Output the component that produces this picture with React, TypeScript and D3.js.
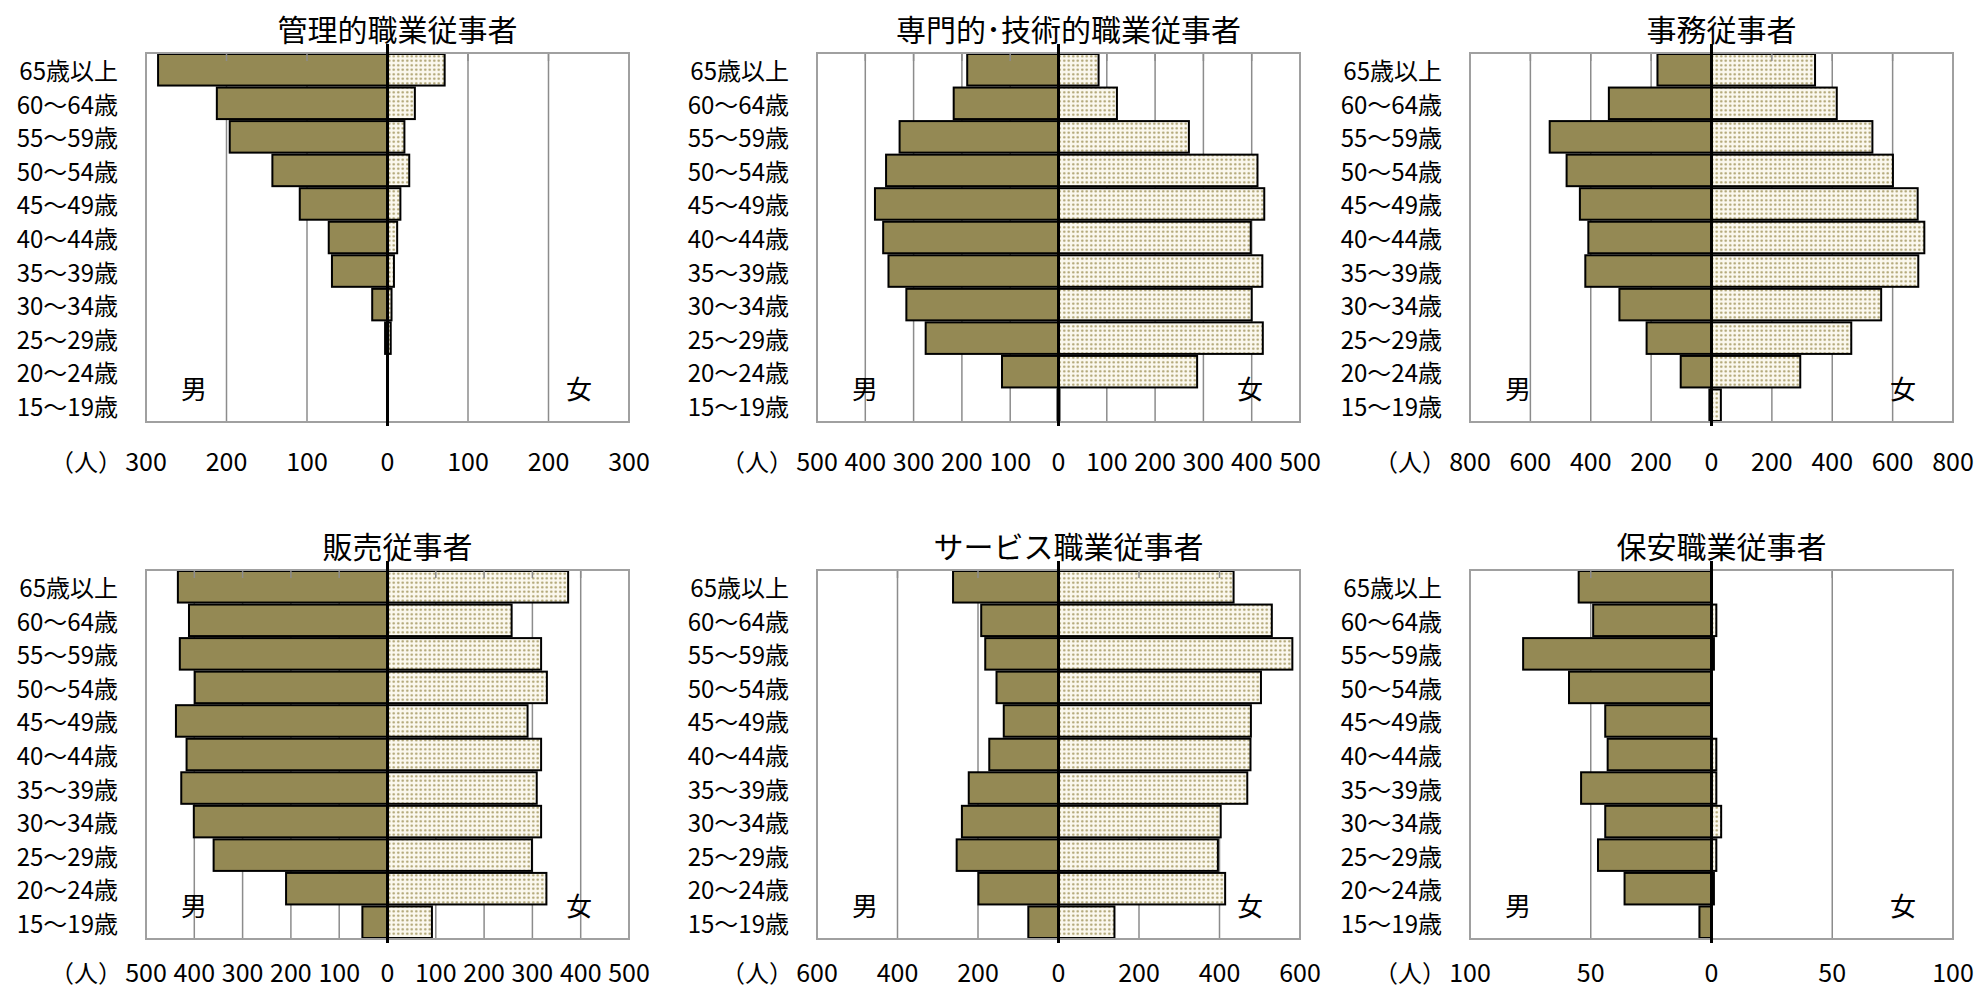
import React from 'react';
import * as d3 from 'd3';

const ages = ["65歳以上", "60～64歳", "55～59歳", "50～54歳", "45～49歳", "40～44歳", "35～39歳", "30～34歳", "25～29歳", "20～24歳", "15～19歳"];

const titles = ["管理的職業従事者", "専門的･技術的職業従事者", "事務従事者", "販売従事者", "サービス職業従事者", "保安職業従事者"];

const kanriMale = [285, 212, 196, 143, 109, 73, 69, 19, 3, 0, 0];
const kanriFemale = [71, 34, 21, 27, 16, 12, 8, 5, 4, 0, 0];
const senmonMale = [189, 217, 329, 357, 380, 363, 352, 315, 275, 117, 2];
const senmonFemale = [83, 121, 270, 412, 426, 398, 422, 400, 423, 287, 2];
const jimuMale = [179, 340, 536, 480, 436, 408, 418, 305, 215, 102, 7];
const jimuFemale = [343, 415, 533, 601, 683, 705, 685, 562, 463, 294, 31];
const hanbaiMale = [434, 411, 430, 399, 438, 416, 427, 401, 360, 210, 52];
const hanbaiFemale = [374, 257, 318, 330, 290, 318, 309, 318, 299, 329, 92];
const serviceMale = [262, 192, 182, 154, 136, 172, 223, 240, 253, 199, 75];
const serviceFemale = [435, 530, 581, 503, 478, 477, 469, 403, 396, 414, 139];
const hoanMale = [55, 49, 78, 59, 44, 43, 54, 44, 47, 36, 5];
const hoanFemale = [0, 2, 1, 0, 0, 2, 2, 4, 2, 1, 0];

const axisMax = [300, 500, 800, 500, 600, 100];
const axisStep = [100, 100, 200, 100, 200, 50];

const panels = [
  { title: titles[0], male: kanriMale, female: kanriFemale, max: axisMax[0], step: axisStep[0] },
  { title: titles[1], male: senmonMale, female: senmonFemale, max: axisMax[1], step: axisStep[1] },
  { title: titles[2], male: jimuMale, female: jimuFemale, max: axisMax[2], step: axisStep[2] },
  { title: titles[3], male: hanbaiMale, female: hanbaiFemale, max: axisMax[3], step: axisStep[3] },
  { title: titles[4], male: serviceMale, female: serviceFemale, max: axisMax[4], step: axisStep[4] },
  { title: titles[5], male: hoanMale, female: hoanFemale, max: axisMax[5], step: axisStep[5] },
];

const colLefts = [146, 817, 1470];
const rowTops = [53, 570];
const tickOffsets = [38, 32];
const W = 483;
const H = 369;
const FONT = "'Noto Sans CJK JP', 'Noto Sans', sans-serif";
const MALE_FILL = '#948954';
const GRID = '#8c8c8c';

type P = { title: string; male: number[]; female: number[]; max: number; step: number };

function Panel({ p, left, top, tickOff }: { p: P; left: number; top: number; tickOff: number }) {
  const x = d3.scaleLinear().domain([-p.max, p.max]).range([left, left + W]);
  const y = d3.scaleBand<string>().domain(ages).range([top, top + H]).paddingInner(0.06).paddingOuter(0.03);
  const ticks = d3.range(-p.max, p.max + 1e-9, p.step);
  const x0 = x(0);
  const tickY = top + H + tickOff;
  return (
    <g>
      <rect x={left} y={top} width={W} height={H} fill="#fff" />
      {ticks.filter(t => t !== 0 && Math.abs(t) !== p.max).map(t => (
        <line key={'g' + t} x1={x(t)} x2={x(t)} y1={top} y2={top + H} stroke={GRID} strokeWidth={1.5} />
      ))}
      {ages.map((a, i) => p.male[i] > 0 ? (
        <rect key={'m' + a} x={x(-p.male[i])} y={y(a)} width={x0 - x(-p.male[i])} height={y.bandwidth()}
          fill={MALE_FILL} stroke="#000" strokeWidth={2} />
      ) : null)}
      {ages.map((a, i) => p.female[i] > 0 ? (
        <rect key={'f' + a} x={x0} y={y(a)} width={x(p.female[i]) - x0} height={y.bandwidth()}
          fill="url(#dots)" stroke="#000" strokeWidth={2} />
      ) : null)}
      {ticks.filter(t => t !== 0 && Math.abs(t) !== p.max).map(t => (
        <line key={'t' + t} x1={x(t)} x2={x(t)} y1={top} y2={top + 8} stroke={GRID} strokeWidth={1.5} />
      ))}
      <rect x={left} y={top} width={W} height={H} fill="none" stroke="#a0a0a0" strokeWidth={2} />
      <line x1={x0} x2={x0} y1={top - 9} y2={top + H + 4} stroke="#000" strokeWidth={3} />
      <text x={left + W / 2 + 10} y={top - 25} textAnchor="middle" dominantBaseline="central"
        fontFamily={FONT} fontSize={30} fill="#000">{p.title}</text>
      {ages.map(a => (
        <text key={'l' + a} x={left - 28} y={(y(a) as number) + y.bandwidth() / 2} textAnchor="end"
          dominantBaseline="central" fontFamily={FONT} fontSize={24} fill="#000">{a}</text>
      ))}
      {ticks.map(t => (
        <text key={'x' + t} x={x(t)} y={tickY} textAnchor="middle" dominantBaseline="central"
          fontFamily={FONT} fontSize={25} fill="#000">{Math.abs(t)}</text>
      ))}
      <text x={left - 24} y={tickY} textAnchor="end" dominantBaseline="central" fontFamily={FONT}
        fontSize={24} fill="#000">（人）</text>
      <text x={left + 48} y={top + H - 35} textAnchor="middle" dominantBaseline="central"
        fontFamily={FONT} fontSize={26} fill="#000">男</text>
      <text x={left + W - 50} y={top + H - 35} textAnchor="middle" dominantBaseline="central"
        fontFamily={FONT} fontSize={26} fill="#000">女</text>
    </g>
  );
}

export default function App() {
  return (
    <svg width={1979} height={992} style={{ position: 'absolute', left: 0, top: 0, background: '#fff' }}>
      <defs>
        <pattern id="dots" width={4.5} height={4.5} patternUnits="userSpaceOnUse">
          <rect width={4.5} height={4.5} fill="#fbf8ee" />
          <circle cx={2.25} cy={2.25} r={1.2} fill="#a99d69" />
        </pattern>
      </defs>
      {panels.map((p, i) => (
        <Panel key={p.title} p={p} left={colLefts[i % 3]} top={rowTops[Math.floor(i / 3)]}
          tickOff={tickOffsets[Math.floor(i / 3)]} />
      ))}
    </svg>
  );
}
